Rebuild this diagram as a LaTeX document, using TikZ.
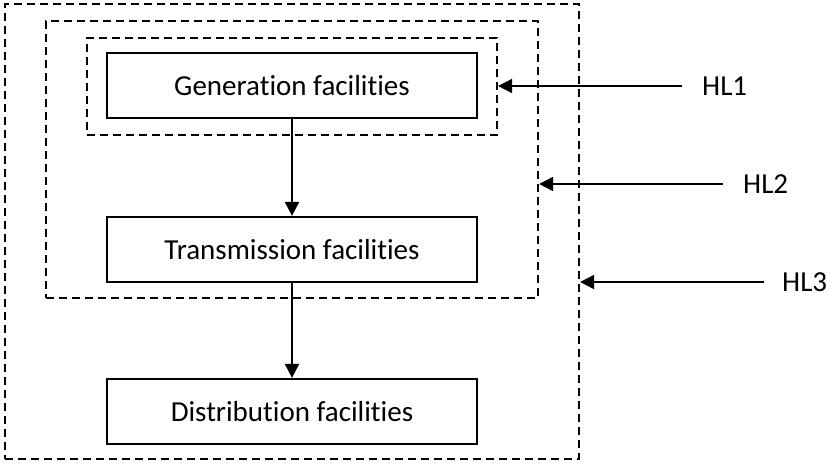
\documentclass[tikz,border=0pt]{standalone}
\usepackage{fontspec}
\setmainfont{Carlito}[Ligatures=NoCommon]
\usetikzlibrary{arrows.meta,positioning,calc}

\begin{document}
\begin{tikzpicture}[x=1pt, y=-1pt,
        facility/.style={draw, rectangle, line width=2.2pt, minimum width=370pt, minimum height=65pt, font=\fontsize{29}{34}\selectfont},
        hlbox/.style={draw, rectangle, line width=2.2pt, dash pattern=on 8pt off 5pt, inner sep=0pt},
        hllabel/.style={inner sep=0pt, anchor=west, font=\fontsize{29}{34}\selectfont},
        flow/.style={-{Triangle[length=14pt,width=14pt]}, line width=1.8pt}]
                \useasboundingbox (0,0) rectangle (827,464);
                % nested dashed boundaries
                \node[hlbox, minimum width=574pt, minimum height=455pt] (hl3) at (292,231.5) {};
                \node[hlbox, minimum width=492pt, minimum height=277pt] (hl2) at (292,159.5) {};
                \node[hlbox, minimum width=410pt, minimum height=97pt] (hl1) at (292,86.5) {};
                % facilities
                \node[facility] (gen) at (292,85.5) {Generation facilities};
                \node[facility] (trans) at (292,249.5) {Transmission facilities};
                \node[facility] (dist) at (292,411.5) {Distribution facilities};
                % level labels
                \node[hllabel] (lbl1) at (702,86) {HL1};
                \node[hllabel] (lbl2) at (743,184) {HL2};
                \node[hllabel] (lbl3) at (782,282) {HL3};
                \coordinate (start1) at ([xshift=-20pt]lbl1.west);
                \coordinate (start2) at ([xshift=-20pt]lbl2.west);
                \coordinate (start3) at ([xshift=-18pt]lbl3.west);

                \draw[flow] (gen) -- (trans);
                \draw[flow] (trans) -- (dist);
                \draw[flow] (start1) -- (start1 -| hl1.east);
                \draw[flow] (start2) -- (start2 -| hl2.east);
                \draw[flow] (start3) -- (start3 -| hl3.east);
            \end{tikzpicture}
\end{document}
